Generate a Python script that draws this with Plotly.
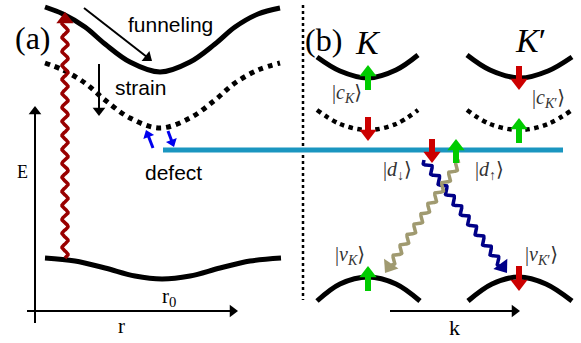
import numpy as np
import plotly.graph_objects as go

# ---------------- data (pixel-space schematic) ----------------
# (a) panel curves
funnel_x = [45, 63, 85, 105, 130, 160, 190, 215, 235, 258, 280]
funnel_y = [7, 14, 27, 44, 62, 72, 62, 44, 27, 14, 8]
strain_x = [45, 63, 85, 105, 130, 160, 190, 215, 235, 258, 280]
strain_y = [63, 70, 83, 100, 118, 128, 118, 100, 83, 70, 63]
ground_x = [45, 75, 105, 135, 162, 190, 220, 250, 281]
ground_y = [258, 261, 268, 276, 279, 276, 268, 261, 258]
defect_x = [163, 563]
defect_y = [150, 150]
divider_x = [303, 303]
divider_y = [5, 300]

# (b) panel valleys
kc_x = [317, 340, 368, 396, 418]
kc_y = [57, 71, 78, 70, 55]
kpc_x = [467, 490, 520, 548, 572]
kpc_y = [55, 70, 78, 71, 57]
kd_x = [317, 340, 368, 396, 418]
kd_y = [110, 124, 130, 124, 110]
kpd_x = [467, 490, 520, 548, 572]
kpd_y = [110, 124, 130, 124, 110]
kv_x = [317, 340, 368, 396, 420]
kv_y = [301, 284, 277, 284, 301]
kpv_x = [468, 492, 519, 546, 572]
kpv_y = [301, 284, 277, 284, 301]

# spin arrows: x, tail y, tip y, colour
spin_x = [368, 519, 368, 519, 432, 456, 368, 519]
spin_tail = [90, 66, 117, 143, 139, 163, 291, 266]
spin_tip = [65, 90, 141, 118, 163, 139, 266, 291]
spin_col = ["#00cc00", "#cc0000", "#cc0000", "#00cc00", "#cc0000", "#00cc00", "#00cc00", "#cc0000"]

# wavy arrows: start, tip, colour
wave_start = [(65, 258), (424, 160), (460, 161)]
wave_tip = [(65, 12), (507, 273), (385, 273)]
wave_col = ["#990000", "#000088", "#a09a70"]

# thin black arrows: tail, tip
barrow_tail = [(84, 8), (99, 64), (35, 323), (27, 311), (390, 311)]
barrow_tip = [(152, 61), (99, 116), (35, 106), (238, 311), (520, 311)]

# small blue arrows near defect
blue_tail = [(153, 148), (168, 131)]
blue_tip = [(146, 130), (174, 147)]

# labels
sans_text = ["funneling", "strain", "defect"]
sans_pos = [(170, 24), (140, 87), (173, 172)]
serif_text = ["(a)", "(b)", "<i>K</i>", "<i>K</i>′", "E", "r", "r<sub>0</sub>", "k"]
serif_pos = [(33, 38), (323, 40), (368, 42), (530, 40), (22, 172), (121, 326), (169, 297), (454, 327)]
serif_size = [32, 32, 34, 34, 18, 21, 21, 22]
ket_text = ["|<i>c</i><sub><i>K</i></sub>⟩", "|<i>c</i><sub><i>K</i>′</sub>⟩",
            "|<i>d</i><sub>↓</sub>⟩", "|<i>d</i><sub>↑</sub>⟩",
            "|<i>v</i><sub><i>K</i></sub>⟩", "|<i>v</i><sub><i>K</i>′</sub>⟩"]
ket_pos = [(347, 93), (548, 98), (397, 170), (489, 170), (350, 255), (541, 255)]

W, H = 581, 343
fig = go.Figure()


def add_line(x, y, color="black", width=5, dash="solid", shape="spline"):
    fig.add_trace(go.Scatter(x=x, y=y, mode="lines", hoverinfo="skip",
                             line=dict(color=color, width=width, dash=dash, shape=shape, smoothing=1.0)))


def add_head(tip, u, color, size):
    r = size / 2.0
    c = (tip[0] - r * u[0], tip[1] - r * u[1])
    ang = float(np.degrees(np.arctan2(u[0], -u[1])))
    fig.add_trace(go.Scatter(x=[c[0]], y=[c[1]], mode="markers", hoverinfo="skip",
                             marker=dict(symbol="triangle-up", size=size, color=color,
                                         angle=ang, line=dict(width=0))))
    return (tip[0] - 1.5 * r * u[0], tip[1] - 1.5 * r * u[1])


def add_straight_arrow(s, t, color, width, head):
    d = np.array(t, float) - np.array(s, float)
    u = d / np.hypot(*d)
    base = add_head(t, u, color, head)
    fig.add_trace(go.Scatter(x=[s[0], base[0] + u[0]], y=[s[1], base[1] + u[1]], mode="lines",
                             hoverinfo="skip", line=dict(color=color, width=width)))


# curves
add_line(funnel_x, funnel_y, width=5)
add_line(strain_x, strain_y, width=5, dash="dot")
add_line(ground_x, ground_y, width=5)
add_line(divider_x, divider_y, width=2.5, dash="dot", shape="linear")
add_line(defect_x, defect_y, color="#1a96c0", width=5, shape="linear")
add_line(kc_x, kc_y, width=5)
add_line(kpc_x, kpc_y, width=5)
add_line(kd_x, kd_y, width=4.5, dash="dot")
add_line(kpd_x, kpd_y, width=4.5, dash="dot")
add_line(kv_x, kv_y, width=5)
add_line(kpv_x, kpv_y, width=5)

# wavy arrows
for (s, t, col) in zip(wave_start, wave_tip, wave_col):
    p0 = np.array(s, float)
    p1 = np.array(t, float)
    d = p1 - p0
    u = d / np.hypot(*d)
    base = np.array(add_head(tuple(p1), u, col, 15))
    Lw = np.hypot(*(base - p0)) + 1
    nrm = np.array([-u[1], u[0]])
    sv = np.linspace(0, Lw, 300)
    amp = 3.0
    lam = 14.0 if col == "#990000" else 12.5
    pts = p0[None, :] + sv[:, None] * u[None, :] + (amp * np.sin(2 * np.pi * sv / lam))[:, None] * nrm[None, :]
    fig.add_trace(go.Scatter(x=pts[:, 0], y=pts[:, 1], mode="lines", hoverinfo="skip",
                             line=dict(color=col, width=3.5)))

# spin arrows
for x, ta, ti, col in zip(spin_x, spin_tail, spin_tip, spin_col):
    u = (0.0, 1.0) if ti > ta else (0.0, -1.0)
    base = add_head((x, ti), u, col, 15)
    fig.add_trace(go.Scatter(x=[x, x], y=[ta, base[1] + 1.5 * u[1]], mode="lines", hoverinfo="skip",
                             line=dict(color=col, width=6)))

# small blue arrows
for s, t in zip(blue_tail, blue_tip):
    add_straight_arrow(s, t, "#0000ee", 3, 10)

# thin black arrows
for s, t in zip(barrow_tail, barrow_tip):
    add_straight_arrow(s, t, "black", 2, 11)

annotations = []
for txt, (x, y) in zip(sans_text, sans_pos):
    annotations.append(dict(x=x, y=y, xref="x", yref="y", text=txt, showarrow=False,
                            font=dict(family="Liberation Sans, Arial", size=21, color="black")))
for txt, (x, y), sz in zip(serif_text, serif_pos, serif_size):
    annotations.append(dict(x=x, y=y, xref="x", yref="y", text=txt, showarrow=False,
                            font=dict(family="Liberation Serif, DejaVu Serif", size=sz, color="black")))
for txt, (x, y) in zip(ket_text, ket_pos):
    annotations.append(dict(x=x, y=y, xref="x", yref="y", text=txt, showarrow=False,
                            font=dict(family="Liberation Serif, DejaVu Serif", size=20, color="#333333")))

fig.update_layout(
    width=W, height=H, margin=dict(l=0, r=0, t=0, b=0), autosize=False,
    paper_bgcolor="white", plot_bgcolor="white", showlegend=False,
    xaxis=dict(range=[0, W], visible=False, fixedrange=True),
    yaxis=dict(range=[H, 0], visible=False, fixedrange=True),
    annotations=annotations,
)
fig.write_html("out.html", config={"displayModeBar": False},
               post_script="document.body.style.margin='0px';document.body.style.overflow='hidden';")
